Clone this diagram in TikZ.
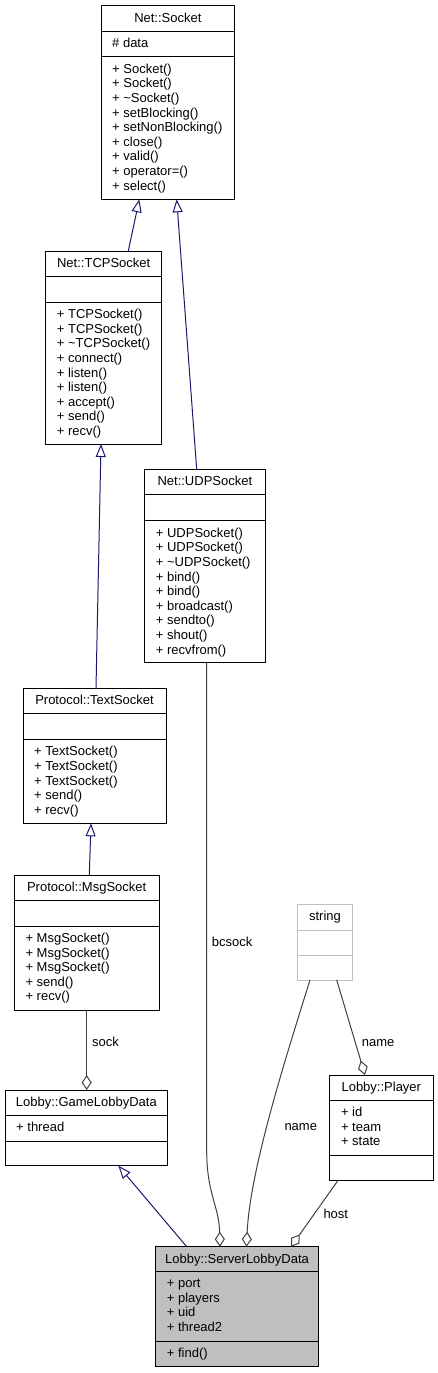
\documentclass[tikz,border=0pt]{standalone}
\usepackage{fontspec}
\setmainfont{Liberation Sans}
\usetikzlibrary{arrows.meta}
\definecolor{inhcol}{RGB}{25,25,112}
\definecolor{aggcol}{RGB}{64,64,64}
\definecolor{hilite}{RGB}{191,191,191}
\definecolor{extcol}{RGB}{191,191,191}
\newcommand\ubox[8]{% #1 name, #2 options, #3 left, #4 top, #5 right, #6 bottom, #7 sep1, #8 sep2
  \node[box,#2,minimum width={#5-#3},minimum height={#6-#4}] (#1) at (#3,#4) {};
  \draw[sepline,#2] (#1.west |- 0,#7) -- (#1.east |- 0,#7);
  \draw[sepline,#2] (#1.west |- 0,#8) -- (#1.east |- 0,#8);}
\newcommand\utitle[2]{\node[ttl] (#1T) at ([yshift=-16.5pt]#1.north) {#2};}
\newcommand\ulines[4]{% #1 name prefix, #2 x, #3 first baseline, #4 list
  \foreach \t [count=\i] in {#4} \node[txt] (#1\i) at (#2,{#3+14.6*(\i-1)}) {\t};}
\begin{document}
\begin{tikzpicture}[x=1pt,y=-1pt,
  box/.style={draw=black, line width=1pt, anchor=north west, inner sep=0pt, outer sep=0pt},
  sepline/.style={draw=black, line width=1pt},
  txt/.style={anchor=base west, inner sep=0pt, font=\fontsize{13}{14.6}\selectfont},
  ttl/.style={anchor=base, inner sep=0pt, font=\fontsize{13}{14.6}\selectfont},
  lbl/.style={anchor=base west, inner sep=0pt, font=\fontsize{13}{14.6}\selectfont},
  inh/.style={draw=inhcol, line width=1pt, -{Triangle[open, length=13pt, width=10pt]}},
  agg/.style={draw=aggcol, line width=1pt, -{Diamond[open, length=15pt, width=10pt]}}]
\useasboundingbox (0,0) rectangle (437,1373);

% Net::Socket
\ubox{sock}{}{101}{5.7}{234.7}{199.3}{31}{56.7}
\utitle{sock}{Net::Socket}
\ulines{sockA}{112}{47.2}{\#\ data}
\ulines{sockM}{112}{73.2}{+ Socket(),+ Socket(),+ \textasciitilde Socket(),+ setBlocking(),+ setNonBlocking(),+ close(),+ valid(),+ operator=(),+ select()}

% Net::TCPSocket
\ubox{tcp}{}{45.7}{251}{161.7}{444}{276}{302}
\utitle{tcp}{Net::TCPSocket}
\ulines{tcpM}{56.7}{318.7}{+ TCPSocket(),+ TCPSocket(),+ \textasciitilde TCPSocket(),+ connect(),+ listen(),+ listen(),+ accept(),+ send(),+ recv()}

% Net::UDPSocket
\ubox{udp}{}{144.7}{469.3}{265}{662.7}{494}{520.7}
\utitle{udp}{Net::UDPSocket}
\ulines{udpM}{155.7}{537.2}{+ UDPSocket(),+ UDPSocket(),+ \textasciitilde UDPSocket(),+ bind(),+ bind(),+ broadcast(),+ sendto(),+ shout(),+ recvfrom()}

% Protocol::TextSocket
\ubox{txs}{}{23}{688.3}{166}{823.3}{713.7}{739.3}
\utitle{txs}{Protocol::TextSocket}
\ulines{txsM}{34}{755.8}{+ TextSocket(),+ TextSocket(),+ TextSocket(),+ send(),+ recv()}

% Protocol::MsgSocket
\ubox{msg}{}{14.3}{875}{159}{1010}{900}{926}
\utitle{msg}{Protocol::MsgSocket}
\ulines{msgM}{25.3}{942.5}{+ MsgSocket(),+ MsgSocket(),+ MsgSocket(),+ send(),+ recv()}

% Lobby::GameLobbyData
\ubox{gld}{}{5}{1090}{167.7}{1165.7}{1115}{1141}
\utitle{gld}{Lobby::GameLobbyData}
\ulines{gldA}{16}{1131.3}{+ thread}

% string
\ubox{str}{draw=extcol}{297.7}{904.3}{352.3}{980}{930}{955.3}
\utitle{str}{string}

% Lobby::Player
\ubox{ply}{}{329.3}{1075}{433.3}{1180}{1100}{1155}
\utitle{ply}{Lobby::Player}
\ulines{plyA}{340.8}{1116.5}{+ id,+ team,+ state}

% Lobby::ServerLobbyData
\ubox{srv}{fill=hilite}{155.7}{1246.7}{318.3}{1366}{1271}{1341}
\utitle{srv}{Lobby::ServerLobbyData}
\ulines{srvA}{166.7}{1287.5}{+ port,+ players,+ uid,+ thread2}
\ulines{srvM}{166.7}{1357.8}{+ find()}

% inheritance
\draw[inh] (tcp.north -| 128.3,0) -- (sock.south -| 139.3,0);
\draw[inh] (udp.north -| 196.7,0) -- (sock.south -| 176.7,0);
\draw[inh] (txs.north -| 96,0) -- (tcp.south -| 101,0);
\draw[inh] (msg.north -| 89.3,0) -- (txs.south -| 91,0);
\draw[inh] (srv.north -| 186.7,0) -- (gld.south -| 118.3,0);

% aggregation
\draw[agg] (msg.south -| 86.7,0) -- (gld.north -| 86.7,0);
\draw[agg] (udp.south -| 206.7,0) -- (206.7,1150) .. controls (206.7,1195) and (219,1205) .. (srv.north -| 220,0);
\draw[agg] (str.south -| 310,0) .. controls (285,1060) and (250,1170) .. (srv.north -| 246.5,0);
\draw[agg] (str.south -| 336.7,0) -- (ply.north -| 365,0);
\draw[agg] (ply.south -| 338.3,0) -- (srv.north -| 291,0);

% labels
\node[lbl] (lsock) at (92,1046) {sock};
\node[lbl] (lbcsock) at (211.7,946.7) {bcsock};
\node[lbl] (lname1) at (284.3,1130.7) {name};
\node[lbl] (lname2) at (361.7,1046.7) {name};
\node[lbl] (lhost) at (323.3,1218.3) {host};
\end{tikzpicture}
\end{document}
